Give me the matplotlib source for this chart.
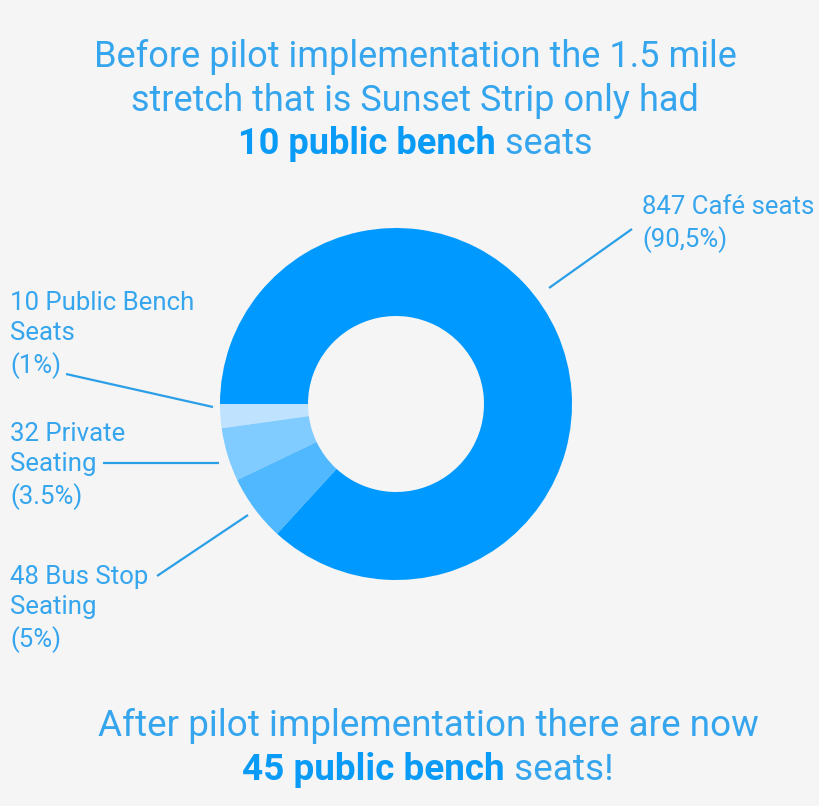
import matplotlib
matplotlib.use("Agg")
import matplotlib.pyplot as plt

# values as drawn in the chart
labels = ["10 Public Bench\nSeats\n(1%)", "32 Private\nSeating\n(3.5%)",
          "48 Bus Stop\nSeating\n(5%)", "847 Café seats\n(90,5%)"]
seats = [10, 32, 48, 847]
slice_share = [2.2, 4.9, 6.1, 86.8]  # shares as the wedges are drawn
colors = ["#bfe3ff", "#80cbff", "#4fb8ff", "#0099ff"]

title_lines = ["Before pilot implementation the 1.5 mile",
               "stretch that is Sunset Strip only had"]
title_bold = ("10 public bench", " seats")
foot_line = "After pilot implementation there are now"
foot_bold = ("45 public bench", " seats!")

W, H = 820, 806
BG = "#f5f5f5"
LIGHT = "#35a5ee"
BOLD = "#0a9bf6"
FONT = "Roboto"

fig = plt.figure(figsize=(W / 100, H / 100), dpi=100, facecolor=BG)
ax = fig.add_axes([0, 0, 1, 1])
ax.set_xlim(0, W)
ax.set_ylim(0, H)
ax.set_aspect("equal")
ax.axis("off")
ax.set_facecolor(BG)

# donut
ax.pie(slice_share, colors=colors, startangle=180, counterclock=True,
       center=(396, H - 404), radius=176,
       wedgeprops=dict(width=88, linewidth=0))
ax.set_xlim(0, W)
ax.set_ylim(0, H)

# leader lines (pixel coords from top-left)
leaders = [((66, 374), (213, 407)),
           ((103, 463), (219, 463)),
           ((157, 576), (248, 515)),
           ((549, 288), (632, 229))]
for (x0, y0), (x1, y1) in leaders:
    ax.plot([x0, x1], [H - y0, H - y1], color="#2a9fe8", lw=1.6,
            solid_capstyle="butt")

# slice labels
label_pos = [(10, 291), (10, 422), (10, 565), (642, 195)]
for txt, (x, y) in zip(labels, label_pos):
    ax.text(x, H - y, txt, fontsize=18.5, family=FONT, fontweight="normal",
            color=LIGHT, ha="left", va="top", linespacing=1.34)

# title
for i, line in enumerate(title_lines):
    ax.text(415, H - (57 + 44 * i), line, fontsize=26, family=FONT,
            fontweight="normal", color=LIGHT, ha="center", va="center")

fig.canvas.draw()
renderer = fig.canvas.get_renderer()


def mixed_line(parts, xc, y, size):
    bold = ax.text(0, H - y, parts[0], fontsize=size, family=FONT,
                   fontweight="bold", color=BOLD, ha="left", va="center")
    rest = ax.text(0, H - y, parts[1], fontsize=size, family=FONT,
                   fontweight="normal", color=LIGHT, ha="left", va="center")
    wb = bold.get_window_extent(renderer).width
    wr = rest.get_window_extent(renderer).width
    x0 = xc - (wb + wr) / 2
    bold.set_x(x0)
    rest.set_x(x0 + wb)


mixed_line(title_bold, 415, 144, 26)

ax.text(428, H - 726, foot_line, fontsize=26.6, family=FONT,
        fontweight="normal", color=LIGHT, ha="center", va="center")
mixed_line(foot_bold, 428, 770, 26.6)

fig.savefig("out.png", dpi=100, facecolor=BG)
